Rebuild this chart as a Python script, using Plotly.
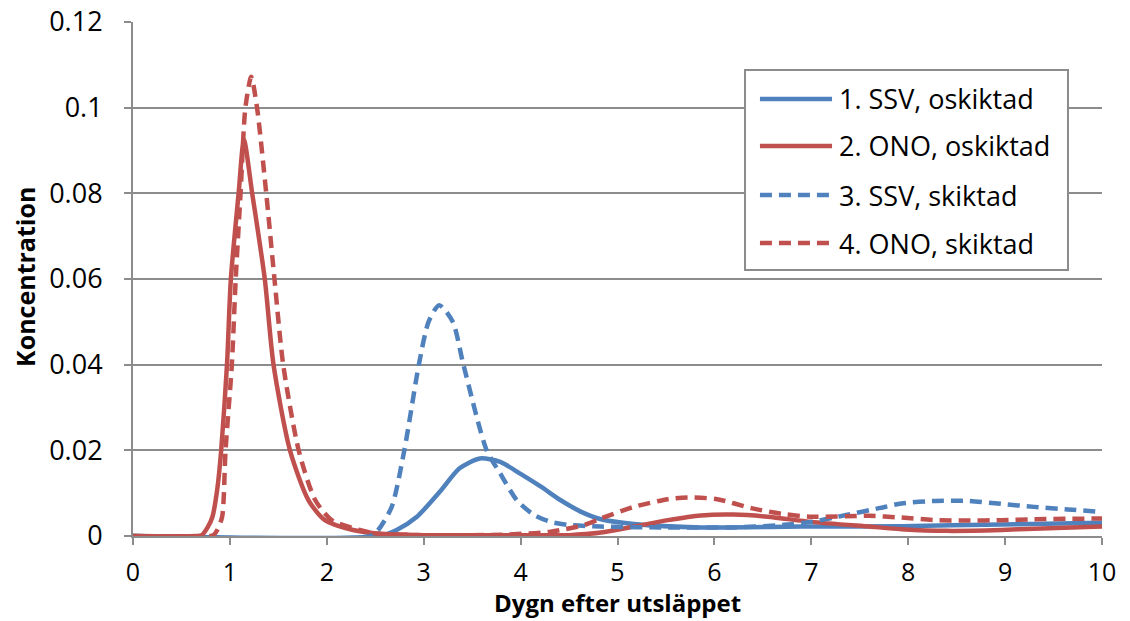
import plotly.graph_objects as go

# Concentration curves (days after release vs concentration)
ssv_osk_x = [0, 2.55, 2.72, 2.93, 3.18, 3.37, 3.58, 3.79, 4.0, 4.21, 4.41, 4.62, 4.83, 5.17, 5.86, 6.9, 7.93, 8.96, 10]
ssv_osk_y = [0, 0, 0.0014, 0.0045, 0.0107, 0.0158, 0.0181, 0.0173, 0.0145, 0.0115, 0.0084, 0.0057, 0.0039, 0.0028, 0.002, 0.0022, 0.0023, 0.0027, 0.0031]

ono_osk_x = [0, 0.65, 0.71, 0.77, 0.82, 0.87, 0.91, 0.97, 1.01, 1.09, 1.145, 1.23, 1.36, 1.45, 1.62, 1.81, 1.98, 2.27, 2.55, 3.0, 3.8, 4.5, 4.83, 5.17, 5.52, 5.86, 6.2, 6.55, 7.0, 7.6, 7.93, 8.4, 8.96, 9.3, 10]
ono_osk_y = [0, 0, 0.0002, 0.002, 0.0045, 0.011, 0.02, 0.04, 0.06, 0.08, 0.0925, 0.08, 0.06, 0.04, 0.02, 0.0084, 0.0037, 0.0014, 0.0005, 0.0002, 0.0002, 0.0002, 0.0008, 0.0022, 0.0037, 0.0048, 0.005, 0.0045, 0.0033, 0.0022, 0.0016, 0.0012, 0.0014, 0.0017, 0.0022]

ssv_sk_x = [0, 2.45, 2.53, 2.67, 2.8, 2.95, 3.05, 3.16, 3.3, 3.41, 3.65, 3.79, 3.96, 4.14, 4.31, 4.49, 4.83, 5.52, 6.2, 6.72, 7.0, 7.36, 7.7, 7.93, 8.28, 8.62, 8.96, 9.3, 9.65, 10]
ssv_sk_y = [0, 0, 0.0014, 0.0068, 0.02, 0.04, 0.05, 0.0539, 0.05, 0.04, 0.02, 0.0146, 0.0084, 0.0049, 0.0033, 0.0026, 0.0022, 0.002, 0.002, 0.0026, 0.0033, 0.0049, 0.0065, 0.0076, 0.0082, 0.0082, 0.0075, 0.0068, 0.0062, 0.0056]

ono_sk_x = [0, 0.8, 0.83, 0.87, 0.92, 0.955, 1.02, 1.06, 1.11, 1.16, 1.22, 1.28, 1.375, 1.46, 1.55, 1.71, 1.88, 2.05, 2.34, 2.51, 3.0, 3.8, 4.31, 4.66, 4.83, 5.17, 5.52, 5.72, 6.03, 6.38, 6.72, 7.0, 7.6, 7.93, 8.28, 8.62, 8.96, 9.3, 10]
ono_sk_y = [0, 0, 0.0002, 0.0014, 0.0045, 0.02, 0.04, 0.06, 0.08, 0.1, 0.1072, 0.1, 0.08, 0.06, 0.04, 0.02, 0.0084, 0.0037, 0.0014, 0.0006, 0.0002, 0.0003, 0.001, 0.0026, 0.0041, 0.0068, 0.0086, 0.009, 0.0086, 0.0065, 0.0051, 0.0045, 0.0047, 0.0043, 0.0037, 0.0036, 0.0037, 0.0039, 0.0041]

series_names = ["1. SSV, oskiktad", "2. ONO, oskiktad", "3. SSV, skiktad", "4. ONO, skiktad"]
x_ticks = list(range(0, 11))
y_ticks = [0, 0.02, 0.04, 0.06, 0.08, 0.1, 0.12]
x_title = "Dygn efter utsläppet"
y_title = "Koncentration"

BLUE = "#4F81BD"
RED = "#C0504D"
GRID = "#8C8C8C"
FONT = "Open Sans"
DASH = "12px,7px"
LW = 4.5

series = [
    (ssv_osk_x, ssv_osk_y, BLUE, "solid"),
    (ono_osk_x, ono_osk_y, RED, "solid"),
    (ssv_sk_x, ssv_sk_y, BLUE, DASH),
    (ono_sk_x, ono_sk_y, RED, DASH),
]

fig = go.Figure()
for (xs, ys, col, dash), name in zip(series, series_names):
    fig.add_trace(go.Scatter(
        x=xs, y=ys, mode="lines", name=name, showlegend=False,
        line=dict(color=col, width=LW, dash=dash, shape="spline", smoothing=0.7),
    ))

# Boxed legend with long line samples
lx0, lx1, ly0, ly1 = 0.6316, 0.9649, 0.5175, 0.9066
fig.add_shape(type="rect", xref="paper", yref="paper", x0=lx0, x1=lx1, y0=ly0, y1=ly1,
              line=dict(color="#8C8C8C", width=2), fillcolor="white", layer="above")
rows = [0.8502, 0.7588, 0.6634, 0.5700]
for (xs, ys, col, dash), name, ry in zip(series, series_names, rows):
    fig.add_shape(type="line", xref="paper", yref="paper", x0=0.647, x1=0.7214, y0=ry, y1=ry,
                  line=dict(color=col, width=LW, dash=dash), layer="above")
    fig.add_annotation(xref="paper", yref="paper", x=0.7266, y=ry, text=name, showarrow=False,
                       xanchor="left", yanchor="middle",
                       font=dict(family=FONT, size=27, color="black"))

# Axis titles
fig.add_annotation(xref="paper", yref="paper", x=0.5, y=-0.1634, text=f"<b>{x_title}</b>",
                   showarrow=False, xanchor="center", yanchor="bottom", borderpad=0,
                   font=dict(family=FONT, size=24, color="black"))
fig.add_annotation(xref="paper", yref="paper", x=-0.1115, y=0.504, text=f"<b>{y_title}</b>",
                   showarrow=False, xanchor="center", yanchor="middle", textangle=-90,
                   font=dict(family=FONT, size=25, color="black"))

axis_common = dict(
    showline=True, linecolor=GRID, linewidth=2,
    ticks="outside", ticklen=7, tickwidth=2, tickcolor=GRID,
    tickfont=dict(family=FONT, size=25, color="black"),
    zeroline=False, automargin=False,
)

fig.update_xaxes(range=[0, 10], tickvals=x_ticks, showgrid=False, ticklabelstandoff=6, **axis_common)
fig.update_yaxes(range=[0, 0.12], tickvals=y_ticks, showgrid=True, gridcolor=GRID, gridwidth=2,
                 ticklabelstandoff=16, tickfont=dict(family=FONT, size=27, color="black"),
                 **{k: v for k, v in axis_common.items() if k != "tickfont"})

fig.update_layout(
    width=1130, height=621,
    margin=dict(l=133, r=28, t=22, b=85),
    plot_bgcolor="white", paper_bgcolor="white",
    font=dict(family=FONT, color="black"),
)

fig.write_html("out.html")
